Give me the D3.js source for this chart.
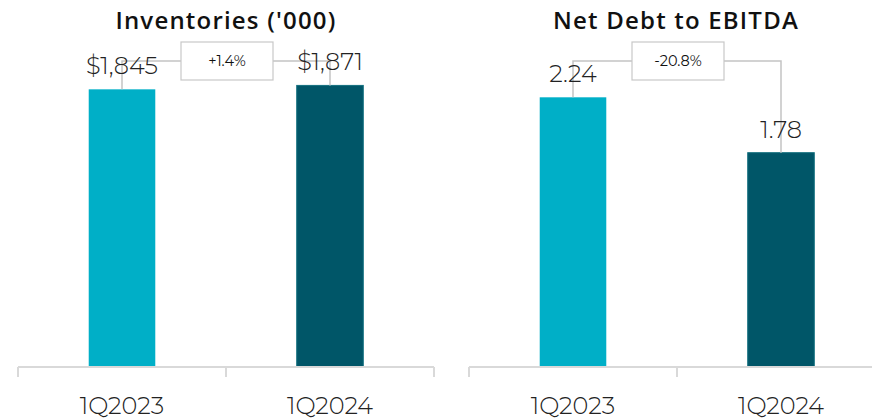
<!DOCTYPE html>
<html>
<head>
<meta charset="utf-8">
<script src="https://cdn.jsdelivr.net/npm/d3@7"></script>
<style>
    body { margin: 0; background: #fff; }
    text { font-family: "Montserrat", "Lato", "Open Sans", sans-serif; }
</style>
</head>
<body>
<div id="chart"></div>
<script>
//Data
var categories = ["1Q2023", "1Q2024"];
var inventories = [1845, 1871];
var inventoryLabels = ["$1,845", "$1,871"];
var netDebt = [2.24, 1.78];
var netDebtLabels = ["2.24", "1.78"];
var changeLabels = ["+1.4%", "-20.8%"];
var titles = ["Inventories ('000)", "Net Debt to EBITDA"];
var barColors = ["#00afc7", "#005668"];

var svg = d3.select("#chart").append("svg")
    .attr("width", 872)
    .attr("height", 419);

var panels = [
    {title: titles[0], values: inventories, labels: inventoryLabels, change: changeLabels[0], x0: 18, x1: 434, max: 2000},
    {title: titles[1], values: netDebt, labels: netDebtLabels, change: changeLabels[1], x0: 469, x1: 885, max: 2.5}
];

var baseY = 367;

panels.forEach(function (p) {
    var g = svg.append("g");

    var x = d3.scaleBand()
        .domain(categories)
        .range([p.x0, p.x1])
        .paddingInner(0.68)
        .paddingOuter(0.34);

    var y = d3.scaleLinear()
        .domain([0, p.max])
        .range([baseY, 66]);

    //title
    g.append("text")
        .attr("x", (p.x0 + p.x1) / 2 - (p.x1 > 872 ? 1 : 0))
        .attr("y", 29)
        .attr("text-anchor", "middle")
        .style("font-family", "'Open Sans', sans-serif")
        .style("font-size", "24px")
        .style("font-weight", 600)
        .style("letter-spacing", "1.2px")
        .style("fill", "#111")
        .text(p.title);

    //bars
    g.selectAll("rect.bar")
        .data(p.values)
        .enter()
        .append("rect")
        .attr("class", "bar")
        .attr("x", function (d, i) { return x(categories[i]); })
        .attr("y", function (d) { return y(d); })
        .attr("width", x.bandwidth())
        .attr("height", function (d) { return baseY - y(d); })
        .style("fill", function (d, i) { return barColors[i]; })
        .style("stroke", function (d, i) { return i === 1 ? "#13707f" : "none"; })
        .style("stroke-width", 1);

    //axis line and ticks
    g.append("line")
        .attr("x1", p.x0).attr("x2", p.x1)
        .attr("y1", baseY).attr("y2", baseY)
        .style("stroke", "#d9d9d9")
        .style("stroke-width", 2);

    [p.x0, (p.x0 + p.x1) / 2, p.x1].forEach(function (tx) {
        g.append("line")
            .attr("x1", tx).attr("x2", tx)
            .attr("y1", baseY).attr("y2", baseY + 10)
            .style("stroke", "#d9d9d9")
            .style("stroke-width", 2);
    });

    //category labels
    g.selectAll("text.cat")
        .data(categories)
        .enter()
        .append("text")
        .attr("class", "cat")
        .attr("x", function (d) { return x(d) + x.bandwidth() / 2; })
        .attr("y", 414)
        .attr("text-anchor", "middle")
        .style("font-size", "24px")
        .style("font-weight", 300)
        .style("fill", "#222")
        .text(function (d) { return d; });

    //connector
    var cx1 = x(categories[0]) + x.bandwidth() / 2;
    var cx2 = x(categories[1]) + x.bandwidth() / 2;
    var midX = (cx1 + cx2) / 2 + 1;
    var lineY = 61;
    var boxW = 92, boxH = 38;

    g.append("path")
        .attr("d", "M" + cx1 + "," + y(p.values[0]) + "V" + lineY + "H" + cx2 + "V" + y(p.values[1]))
        .style("fill", "none")
        .style("stroke", "#c4c4c4")
        .style("stroke-width", 1.5);

    //value labels
    g.selectAll("text.val")
        .data(p.values)
        .enter()
        .append("text")
        .attr("class", "val")
        .attr("x", function (d, i) { return x(categories[i]) + x.bandwidth() / 2; })
        .attr("y", function (d) { return y(d) - 15; })
        .attr("text-anchor", "middle")
        .style("font-size", "24px")
        .style("font-weight", 300)
        .style("fill", "#222")
        .text(function (d, i) { return p.labels[i]; });

    g.append("rect")
        .attr("x", midX - boxW / 2)
        .attr("y", lineY - 19)
        .attr("width", boxW)
        .attr("height", boxH)
        .style("fill", "#fff")
        .style("stroke", "#c8c8c8")
        .style("stroke-width", 1.2);

    g.append("text")
        .attr("x", midX)
        .attr("y", lineY + 5)
        .attr("text-anchor", "middle")
        .style("font-size", "14.5px")
        .style("fill", "#111")
        .text(p.change);
});
</script>
</body>
</html>
